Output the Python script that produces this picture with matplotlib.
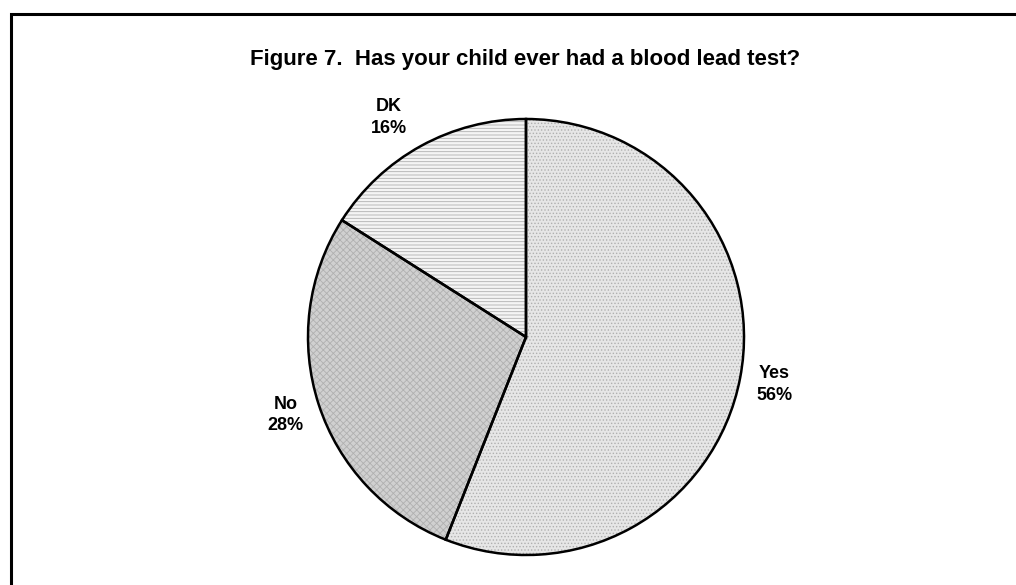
import matplotlib.pyplot as plt
from matplotlib.patches import Rectangle

categories = ["Yes", "No", "DK"]
shares = [56, 28, 16]

plt.rcParams['font.family'] = ['Liberation Sans', 'DejaVu Sans']
plt.rcParams['hatch.linewidth'] = 0.6

fig = plt.figure(figsize=(10.16, 5.85), dpi=100)
ax = fig.add_axes([(526 - 218) / 1016, (585 - 337 - 218) / 585, 436 / 1016, 436 / 585])

fills = ['#e6e6e6', '#d0d0d0', '#f4f4f4']
hatches = ['.....', 'xxxxx', '-----']

# fill with pattern first, then outline on top
wedges, _ = ax.pie(shares, startangle=90, counterclock=False, colors=fills,
                   hatch=hatches, wedgeprops=dict(edgecolor='#b0b0b0', linewidth=0))
labels = [f"{c}\n{s}%" for c, s in zip(categories, shares)]
outline, texts = ax.pie(shares, startangle=90, counterclock=False, labels=labels,
                        labeldistance=1.16,
                        wedgeprops=dict(fill=False, edgecolor='black', linewidth=1.8),
                        textprops=dict(fontsize=13, fontweight='bold', linespacing=1.35))
for t in texts:
    t.set_ha('center')
    t.set_va('center')
# DK label sits a little further left in the original
x, y = texts[2].get_position()
texts[2].set_position((x - 0.07, y - 0.01))
ax.set_xlim(-1, 1)
ax.set_ylim(-1, 1)
ax.set_aspect('auto')

fig.text(525 / 1016, 1 - 60 / 585, "Figure 7.  Has your child ever had a blood lead test?",
         ha='center', va='center', fontsize=16, fontweight='bold')

fig.add_artist(Rectangle((11 / 1016, -0.1), 1.2, (585 - 14) / 585 + 0.1, fill=False,
                         linewidth=2.2, edgecolor='black', transform=fig.transFigure))

fig.savefig("out.png", dpi=100)
